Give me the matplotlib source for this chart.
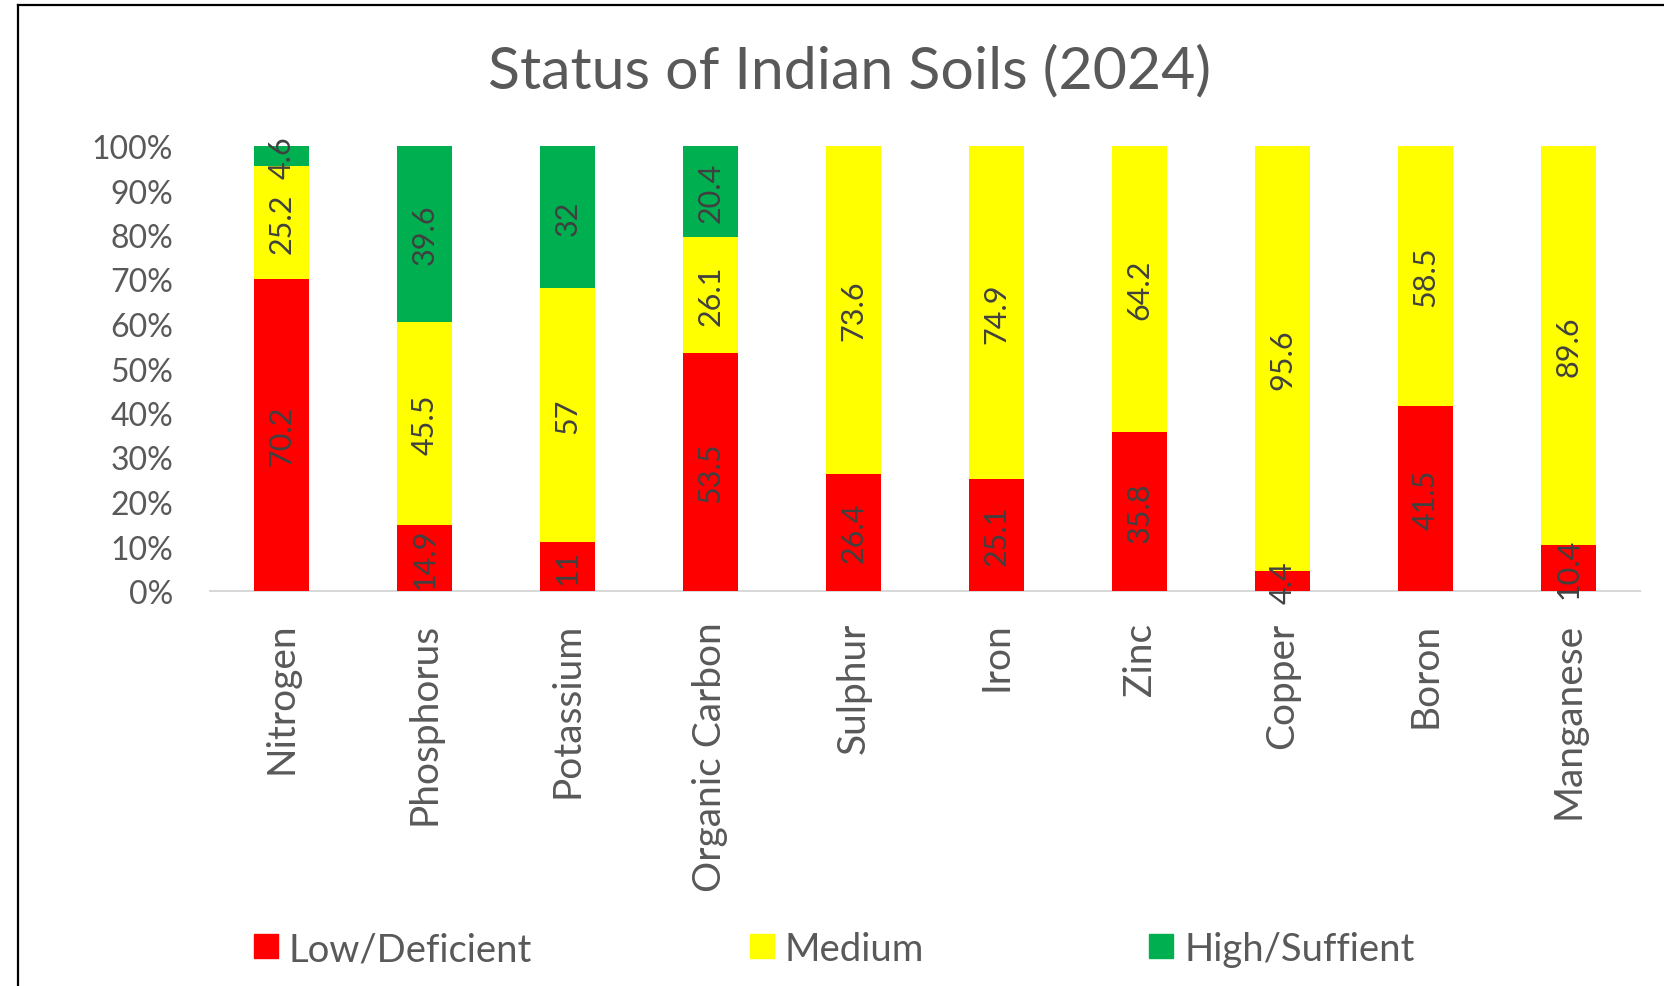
import matplotlib
matplotlib.use("Agg")
import matplotlib.pyplot as plt
import numpy as np
from matplotlib.lines import Line2D
from matplotlib.patches import Rectangle

# data (percent of samples)
nutrients = ["Nitrogen", "Phosphorus", "Potassium", "Organic Carbon", "Sulphur",
             "Iron", "Zinc", "Copper", "Boron", "Manganese"]
low = [70.2, 14.9, 11, 53.5, 26.4, 25.1, 35.8, 4.4, 41.5, 10.4]
medium = [25.2, 45.5, 57, 26.1, 73.6, 74.9, 64.2, 95.6, 58.5, 89.6]
high = [4.6, 39.6, 32, 20.4, 0, 0, 0, 0, 0, 0]
series_names = ["Low/Deficient", "Medium", "High/Suffient"]
series_colors = ["#FF0000", "#FFFF00", "#00B050"]

W, H = 1664, 987
TEXT = "#595959"
LABEL = "#404040"

plt.rcParams["font.family"] = ["Lato", "DejaVu Sans"]

fig = plt.figure(figsize=(W / 100, H / 100), dpi=100)
ax = fig.add_axes([210 / W, 1 - 592 / H, 1430 / W, 445 / H])

x = np.arange(len(nutrients))
bottom = np.zeros(len(nutrients))
for vals, name, color in zip([low, medium, high], series_names, series_colors):
    vals = np.array(vals, dtype=float)
    ax.bar(x, vals, width=0.39, bottom=bottom, color=color, label=name, zorder=2)
    for xi, b, v in zip(x, bottom, vals):
        if v > 0:
            ax.text(xi, b + v / 2, f"{v:g}", rotation=90, ha="center", va="center",
                    fontsize=22, color=LABEL, zorder=3)
    bottom += vals

ax.set_xlim(-0.5, len(nutrients) - 0.5)
ax.set_ylim(0, 100)
ax.set_yticks(np.arange(0, 101, 10))
ax.set_yticklabels([f"{v}%" for v in range(0, 101, 10)])
ax.set_xticks(x)
ax.set_xticklabels(nutrients, rotation=90, va="top", ha="center")
ax.tick_params(axis="y", length=0, pad=26.5, labelsize=23, labelcolor=TEXT)
ax.tick_params(axis="x", length=0, pad=22, labelsize=28, labelcolor=TEXT)
for side in ["top", "right", "left"]:
    ax.spines[side].set_visible(False)
ax.spines["bottom"].set_color("#D9D9D9")
ax.spines["bottom"].set_linewidth(1.5)
ax.spines["bottom"].set_zorder(1)

fig.text(849 / W, 1 - 88 / H, "Status of Indian Soils (2024)", ha="center", va="baseline",
         fontsize=42.5, color=TEXT)

# legend row along the bottom
legend_x = [254, 750, 1149]
for lx, name, color in zip(legend_x, series_names, series_colors):
    fig.add_artist(Rectangle((lx / W, 1 - 959 / H), 24 / W, 24 / H,
                             transform=fig.transFigure, color=color))
    fig.text((lx + 35) / W, 1 - 947 / H, name, ha="left", va="center_baseline",
             fontsize=27.5, color=TEXT)

# chart border (cropped on the right and bottom)
fig.add_artist(Line2D([18 / W, 18 / W], [0, 1 - 6 / H], transform=fig.transFigure,
                      color="black", lw=1.6))
fig.add_artist(Line2D([18 / W, 1], [1 - 6 / H, 1 - 6 / H], transform=fig.transFigure,
                      color="black", lw=1.6))

fig.savefig("out.png", dpi=100)
